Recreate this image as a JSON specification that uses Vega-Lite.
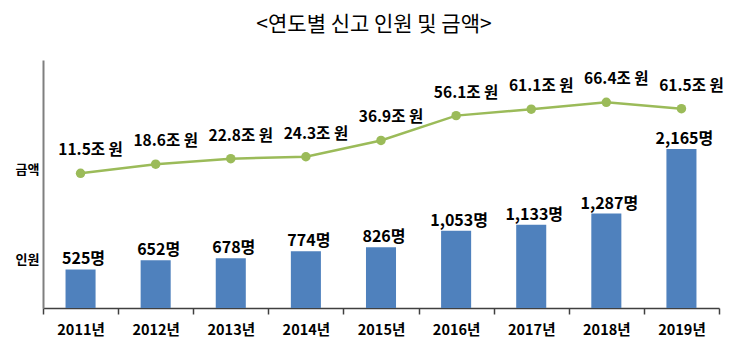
{
  "$schema": "https://vega.github.io/schema/vega-lite/v6.json",
  "width": 676,
  "height": 248,
  "autosize": "none",
  "padding": {"left": 43, "top": 60, "right": 30, "bottom": 53},
  "background": "white",
  "config": {"view": {"stroke": null}, "font": "Noto Sans CJK KR"},
  "title": {
    "text": "<연도별 신고 인원 및 금액>",
    "font": "Noto Sans CJK KR",
    "fontSize": 21,
    "fontWeight": "normal",
    "color": "#000000",
    "anchor": "middle",
    "dx": -7,
    "offset": 25
  },
  "data": {
    "values": [
      {"year": "2011년", "people": 525, "amount": 11.5, "people_label": "525명", "amount_label": "11.5조 원"},
      {"year": "2012년", "people": 652, "amount": 18.6, "people_label": "652명", "amount_label": "18.6조 원"},
      {"year": "2013년", "people": 678, "amount": 22.8, "people_label": "678명", "amount_label": "22.8조 원"},
      {"year": "2014년", "people": 774, "amount": 24.3, "people_label": "774명", "amount_label": "24.3조 원"},
      {"year": "2015년", "people": 826, "amount": 36.9, "people_label": "826명", "amount_label": "36.9조 원"},
      {"year": "2016년", "people": 1053, "amount": 56.1, "people_label": "1,053명", "amount_label": "56.1조 원"},
      {"year": "2017년", "people": 1133, "amount": 61.1, "people_label": "1,133명", "amount_label": "61.1조 원"},
      {"year": "2018년", "people": 1287, "amount": 66.4, "people_label": "1,287명", "amount_label": "66.4조 원"},
      {"year": "2019년", "people": 2165, "amount": 61.5, "people_label": "2,165명", "amount_label": "61.5조 원"}
    ]
  },
  "encoding": {
    "x": {
      "field": "year",
      "type": "nominal",
      "sort": null,
      "scale": {"paddingInner": 0, "paddingOuter": 0},
      "axis": {
        "title": null,
        "labelAngle": 0,
        "labelFont": "Noto Sans CJK KR",
        "labelFontSize": 14.5,
        "labelFontWeight": "bold",
        "labelColor": "#000000",
        "labelPadding": 9,
        "tickBand": "extent",
        "tickSize": 6,
        "tickColor": "#404040",
        "tickWidth": 1.5,
        "domainColor": "#404040",
        "domainWidth": 1.5,
        "grid": false
      }
    }
  },
  "layer": [
    {
      "mark": {"type": "bar", "color": "#4F81BD", "width": {"band": 0.4}},
      "encoding": {
        "y": {
          "field": "people",
          "type": "quantitative",
          "scale": {"domain": [0, 3378], "nice": false, "zero": true},
          "axis": {
            "title": null,
            "values": [654, 1880],
            "labelExpr": "datum.value > 1000 ? '금액' : '인원'",
            "labelFont": "Noto Sans CJK KR",
            "labelFontSize": 13,
            "labelFontWeight": "bold",
            "labelColor": "#000000",
            "labelPadding": 4,
            "ticks": false,
            "tickSize": 0,
            "grid": false,
            "domainColor": "#7f7f7f",
            "domainWidth": 2
          }
        }
      }
    },
    {
      "mark": {"type": "text", "font": "Noto Sans CJK KR", "fontSize": 16, "fontWeight": "bold", "color": "#000000", "baseline": "middle", "dy": -10, "dx": 3},
      "encoding": {
        "y": {"field": "people", "type": "quantitative", "scale": {"domain": [0, 3378], "nice": false}, "axis": null},
        "text": {"field": "people_label"}
      }
    },
    {
      "mark": {"type": "line", "color": "#9BBB59", "strokeWidth": 2.5, "point": {"filled": true, "color": "#9BBB59", "size": 90}},
      "encoding": {
        "y": {"field": "amount", "type": "quantitative", "scale": {"domain": [-92.6, 99.1], "nice": false, "zero": false}, "axis": null}
      }
    },
    {
      "mark": {"type": "text", "font": "Noto Sans CJK KR", "fontSize": 15.5, "fontWeight": "bold", "color": "#000000", "baseline": "middle", "dy": -23, "dx": 10},
      "encoding": {
        "y": {"field": "amount", "type": "quantitative", "scale": {"domain": [-92.6, 99.1], "nice": false, "zero": false}, "axis": null},
        "text": {"field": "amount_label"}
      }
    }
  ],
  "resolve": {"scale": {"y": "independent"}}
}
